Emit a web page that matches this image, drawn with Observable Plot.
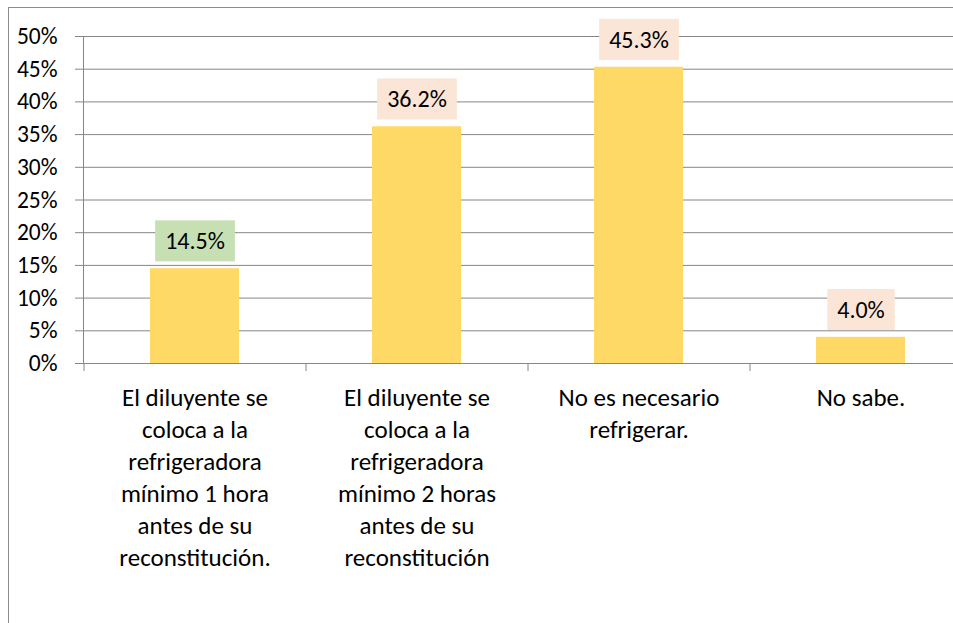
<!DOCTYPE html>
<html><head><meta charset="utf-8">
<script src="https://cdn.jsdelivr.net/npm/d3@7"></script>
<script src="https://cdn.jsdelivr.net/npm/@observablehq/plot@0.6"></script>
<style>
html,body{margin:0;padding:0;background:#fff;overflow:hidden;}
#wrap{position:relative;width:953px;height:623px;}
#frame{position:absolute;left:8px;top:7px;right:0;bottom:0;border-left:1px solid #8c8c8c;border-top:1px solid #8c8c8c;pointer-events:none}
#wrap svg{position:absolute;left:0;top:0;}
</style></head><body><div id="wrap"><div id="frame"></div></div>
<script>
const categories = [
  "El diluyente se\ncoloca a la\nrefrigeradora\nmínimo 1 hora\nantes de su\nreconstitución.",
  "El diluyente se\ncoloca a la\nrefrigeradora\nmínimo 2 horas\nantes de su\nreconstitución",
  "No es necesario\nrefrigerar.",
  "No sabe."
];
const values = [0.145, 0.362, 0.453, 0.040];
const valueLabels = ["14.5%", "36.2%", "45.3%", "4.0%"];
const yTicks = [0, 0.05, 0.10, 0.15, 0.20, 0.25, 0.30, 0.35, 0.40, 0.45, 0.50];

const data = categories.map((c, i) => ({cat: c, value: values[i], label: valueLabels[i]}));
const labelBoxFill = ["#C6E0B4", "#FBE5D6", "#FBE5D6", "#FBE5D6"];
const font = "Carlito, Calibri, Lato, 'Open Sans', sans-serif";
const gray = "#868686";

const plot = Plot.plot({
  width: 953, height: 623,
  marginLeft: 83, marginRight: 0, marginTop: 36, marginBottom: 260,
  style: {fontFamily: font, fontSize: "24px", color: "#000", background: "transparent", overflow: "visible"},
  x: {domain: categories, range: [83, 971], paddingInner: 0.6, paddingOuter: 0.3, axis: null},
  y: {domain: [0, 0.5], axis: null},
  marks: [
    Plot.gridY(yTicks, {stroke: gray, strokeOpacity: 1}),
    Plot.axisY(yTicks, {tickSize: 8, tickPadding: 18, tickFormat: d3.format(".0%"), stroke: gray, fill: "#000", fontSize: 23.5, label: null}),
    Plot.frame({anchor: "left", stroke: gray}),
    Plot.ruleX(categories, {x: d => d, dx: -111, y1: 0, y2: -0.0123, stroke: gray}),
    Plot.barY(data, {x: "cat", y: "value", fill: "#FFD966"}),
    Plot.text(data, {x: "cat", y: 0, text: "cat", lineAnchor: "top", lineHeight: 1.28, dy: 20, fontSize: 25, fill: "#000", style: "letter-spacing:0.7px"}),
    Plot.text(data, {x: "cat", y: "value", text: "label", dy: -27, fontSize: 24, fill: "#000"})
  ]
});
document.getElementById("wrap").appendChild(plot);

// label background boxes, sized from the rendered text
const groups = plot.querySelectorAll('g[aria-label="text"]');
const g = groups[groups.length - 1];
Array.from(g.querySelectorAll("text")).forEach((t, i) => {
  const b = t.getBBox();
  const tr = t.getAttribute("transform");
  const r = document.createElementNS("http://www.w3.org/2000/svg", "rect");
  const cy = b.y + b.height / 2;
  r.setAttribute("x", b.x - 10);
  r.setAttribute("width", b.width + 20);
  r.setAttribute("y", cy - 20.5);
  r.setAttribute("height", 41);
  if (tr) r.setAttribute("transform", tr);
  r.setAttribute("fill", labelBoxFill[i]);
  r.setAttribute("stroke", "none");
  t.parentNode.insertBefore(r, t);
});
</script>
</body></html>
